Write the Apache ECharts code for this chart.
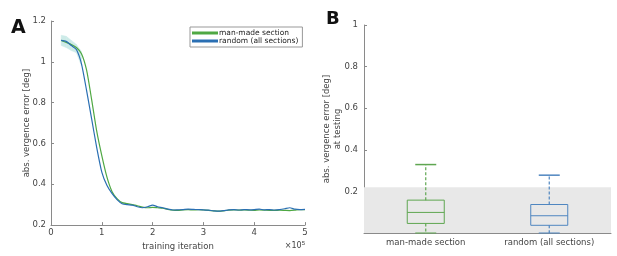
<!DOCTYPE html>
<html>
<head>
<meta charset="utf-8">
<script src="https://cdn.jsdelivr.net/npm/echarts@6/dist/echarts.min.js"></script>
<style>
  html, body { margin: 0; padding: 0; background: #fff; }
  #main { width: 617px; height: 256px; }
</style>
</head>
<body>
<div id="main"></div>
<script>
// panel A: training curves (x in units of 1e5 iterations)
const iterations = [0.2, 0.3, 0.4, 0.5, 0.6, 0.7, 0.8, 0.9, 1.0, 1.1, 1.2, 1.3, 1.4, 1.5, 1.6, 1.7, 1.8, 1.9, 2.0,
  2.1, 2.2, 2.3, 2.4, 2.5, 2.6, 2.7, 2.8, 2.9, 3.0, 3.1, 3.2, 3.3, 3.4, 3.5, 3.6, 3.7, 3.8, 3.9, 4.0,
  4.1, 4.2, 4.3, 4.4, 4.5, 4.6, 4.7, 4.8, 4.9, 5.0];
const manMade = [1.105, 1.095, 1.085, 1.07, 1.04, 0.96, 0.815, 0.66, 0.54, 0.436, 0.365, 0.33, 0.31, 0.305, 0.30, 0.295, 0.288, 0.285, 0.287,
  0.285, 0.283, 0.277, 0.273, 0.272, 0.275, 0.276, 0.274, 0.276, 0.274, 0.272, 0.27, 0.268, 0.27, 0.273, 0.275, 0.273, 0.274, 0.273, 0.272,
  0.274, 0.273, 0.272, 0.272, 0.273, 0.272, 0.271, 0.273, 0.276, 0.276];
const randomAll = [1.105, 1.10, 1.08, 1.06, 0.99, 0.86, 0.72, 0.58, 0.46, 0.395, 0.355, 0.325, 0.305, 0.30, 0.298, 0.29, 0.285, 0.29, 0.298,
  0.29, 0.285, 0.278, 0.274, 0.275, 0.276, 0.278, 0.277, 0.276, 0.275, 0.273, 0.27, 0.268, 0.271, 0.275, 0.276, 0.274, 0.276, 0.275, 0.276,
  0.278, 0.275, 0.276, 0.274, 0.276, 0.28, 0.285, 0.278, 0.276, 0.277];
// faint spread around the curves at the start
const bandIter = [0.2, 0.3, 0.4, 0.5, 0.6];
const bandLow = [1.08, 1.07, 1.055, 1.045, 0.98];
const bandHigh = [1.13, 1.125, 1.105, 1.085, 1.05];
const seriesNames = ['man-made section', 'random (all sections)'];

// panel B: test error box plots [min, q1, median, q3, max]
const boxCategories = ['man-made section', 'random (all sections)'];
const boxStats = [
  [0, 0.046, 0.099, 0.158, 0.329],
  [0, 0.037, 0.083, 0.137, 0.278]
];
const bandTop = 0.22;

const green = '#4fa843';
const blue = '#2a6fb3';
const boxColors = ['#5fa651', '#4f86c0'];
const axisColor = '#8a8a8a';
const textColor = '#444';
const font = 'DejaVu Sans';

const chart = echarts.init(document.getElementById('main'), null, { renderer: 'canvas' });

const pairs = (xs, ys) => xs.map((x, i) => [x, ys[i]]);

const option = {
  animation: false,
  textStyle: { fontFamily: font },
  grid: [
    { left: 51, top: 21, width: 254, height: 208 },
    { left: 364, top: 25, width: 247, height: 208 }
  ],
  legend: {
    data: seriesNames,
    orient: 'vertical',
    left: 190, top: 27,
    itemWidth: 26, itemHeight: 3, itemGap: 0,
    padding: [2, 4, 2, 2],
    borderColor: '#999', borderWidth: 1,
    icon: 'rect',
    textStyle: { fontSize: 7.5, lineHeight: 8, color: '#222', fontFamily: font, padding: [0, 0, 0, -4] }
  },
  xAxis: [
    {
      type: 'value', gridIndex: 0, min: 0, max: 5, interval: 1,
      name: 'training iteration', nameLocation: 'middle', nameGap: 12,
      nameTextStyle: { fontSize: 8.5, color: textColor },
      axisLine: { lineStyle: { color: axisColor } },
      axisTick: { inside: true, length: 3, lineStyle: { color: axisColor } },
      axisLabel: { fontSize: 8.5, color: textColor, margin: 3 },
      splitLine: { show: false }
    },
    {
      type: 'category', gridIndex: 1, data: boxCategories, boundaryGap: true,
      axisLine: { lineStyle: { color: axisColor } },
      axisTick: { show: false },
      axisLabel: { fontSize: 8.5, color: textColor, margin: 5 }
    }
  ],
  yAxis: [
    {
      type: 'value', gridIndex: 0, min: 0.2, max: 1.2, interval: 0.2,
      name: 'abs. vergence error [deg]', nameLocation: 'middle', nameGap: 20, nameRotate: 90,
      nameMoveOverlap: false,
      nameTextStyle: { fontSize: 8.5, color: textColor },
      axisLine: { show: true, lineStyle: { color: axisColor } },
      axisTick: { show: true, inside: true, length: 3, lineStyle: { color: axisColor } },
      axisLabel: { fontSize: 8.5, color: textColor, margin: 5 },
      splitLine: { show: false }
    },
    {
      type: 'value', gridIndex: 1, min: 0, max: 1, interval: 0.2,
      name: 'abs. vergence error [deg]\nat testing', nameLocation: 'middle', nameGap: 21, nameRotate: 90,
      nameMoveOverlap: false,
      nameTextStyle: { fontSize: 8.5, color: textColor, lineHeight: 11 },
      axisLine: { show: true, lineStyle: { color: axisColor } },
      axisTick: { show: true, inside: true, length: 3, lineStyle: { color: axisColor } },
      axisLabel: { fontSize: 8.5, color: textColor, margin: 6,
        formatter: v => (v === 0 ? '' : String(+v.toFixed(1))) },
      splitLine: { show: false }
    }
  ],
  graphic: [
    { type: 'text', left: 11, top: 19, style: { text: 'A', font: 'bold 19px ' + font, fill: '#111' } },
    { type: 'text', left: 326, top: 10, style: { text: 'B', font: 'bold 18px ' + font, fill: '#111' } },
    {
      type: 'text', right: 312, top: 240,
      style: {
        text: '×10{s|5}', font: '8px ' + font, fill: textColor,
        rich: { s: { fontSize: 6, verticalAlign: 'top', padding: [0, 0, 6, 0] } }
      }
    }
  ],
  series: [
    {
      name: 'spread', type: 'custom', xAxisIndex: 0, yAxisIndex: 0, silent: true,
      encode: { x: 0, y: [1, 2] },
      data: bandIter.map((x, i) => [x, bandLow[i], bandHigh[i]]),
      renderItem: function (params, api) {
        const i = params.dataIndex;
        if (i >= bandIter.length - 1) return null;
        const a = api.coord([bandIter[i], bandLow[i]]);
        const b = api.coord([bandIter[i + 1], bandLow[i + 1]]);
        const c = api.coord([bandIter[i + 1], bandHigh[i + 1]]);
        const d = api.coord([bandIter[i], bandHigh[i]]);
        return {
          type: 'polygon',
          shape: { points: [a, b, c, d] },
          style: { fill: '#cdebe8', stroke: '#cdebe8', lineWidth: 0.5 }
        };
      }
    },
    {
      name: seriesNames[0], type: 'line', xAxisIndex: 0, yAxisIndex: 0,
      data: pairs(iterations, manMade), symbol: 'none', smooth: 0.2,
      lineStyle: { color: green, width: 1.2 }, itemStyle: { color: green }
    },
    {
      name: seriesNames[1], type: 'line', xAxisIndex: 0, yAxisIndex: 0,
      data: pairs(iterations, randomAll), symbol: 'none', smooth: 0.2,
      lineStyle: { color: blue, width: 1.2 }, itemStyle: { color: blue }
    },
    {
      name: 'boxes', type: 'custom', xAxisIndex: 1, yAxisIndex: 1,
      encode: { x: 0, y: [1, 2, 3, 4, 5] },
      data: boxStats.map((s, i) => [i].concat(s)),
      markArea: {
        silent: true,
        itemStyle: { color: '#e8e8e8' },
        data: [[{ yAxis: 0 }, { yAxis: bandTop }]]
      },
      renderItem: function (params, api) {
        const i = api.value(0);
        const col = boxColors[i];
        const pMin = api.coord([i, api.value(1)]);
        const pQ1 = api.coord([i, api.value(2)]);
        const pMed = api.coord([i, api.value(3)]);
        const pQ3 = api.coord([i, api.value(4)]);
        const pMax = api.coord([i, api.value(5)]);
        const cx = pMed[0];
        const hw = 18.5, cw = 10.5;
        const solid = { stroke: col, lineWidth: 1, fill: null };
        const dashed = { stroke: col, lineWidth: 1.2, lineDash: [3, 2] };
        return {
          type: 'group',
          children: [
            { type: 'line', shape: { x1: cx, y1: pQ3[1], x2: cx, y2: pMax[1] }, style: dashed },
            { type: 'line', shape: { x1: cx, y1: pQ1[1], x2: cx, y2: pMin[1] }, style: dashed },
            { type: 'line', shape: { x1: cx - cw, y1: pMax[1], x2: cx + cw, y2: pMax[1] }, style: { stroke: col, lineWidth: 1.5 } },
            { type: 'line', shape: { x1: cx - cw, y1: pMin[1], x2: cx + cw, y2: pMin[1] }, style: { stroke: col, lineWidth: 1 } },
            { type: 'rect', shape: { x: cx - hw, y: pQ3[1], width: 2 * hw, height: pQ1[1] - pQ3[1] }, style: solid },
            { type: 'line', shape: { x1: cx - hw, y1: pMed[1], x2: cx + hw, y2: pMed[1] }, style: { stroke: col, lineWidth: 1 } }
          ]
        };
      }
    }
  ]
};

chart.setOption(option);
</script>
</body>
</html>
